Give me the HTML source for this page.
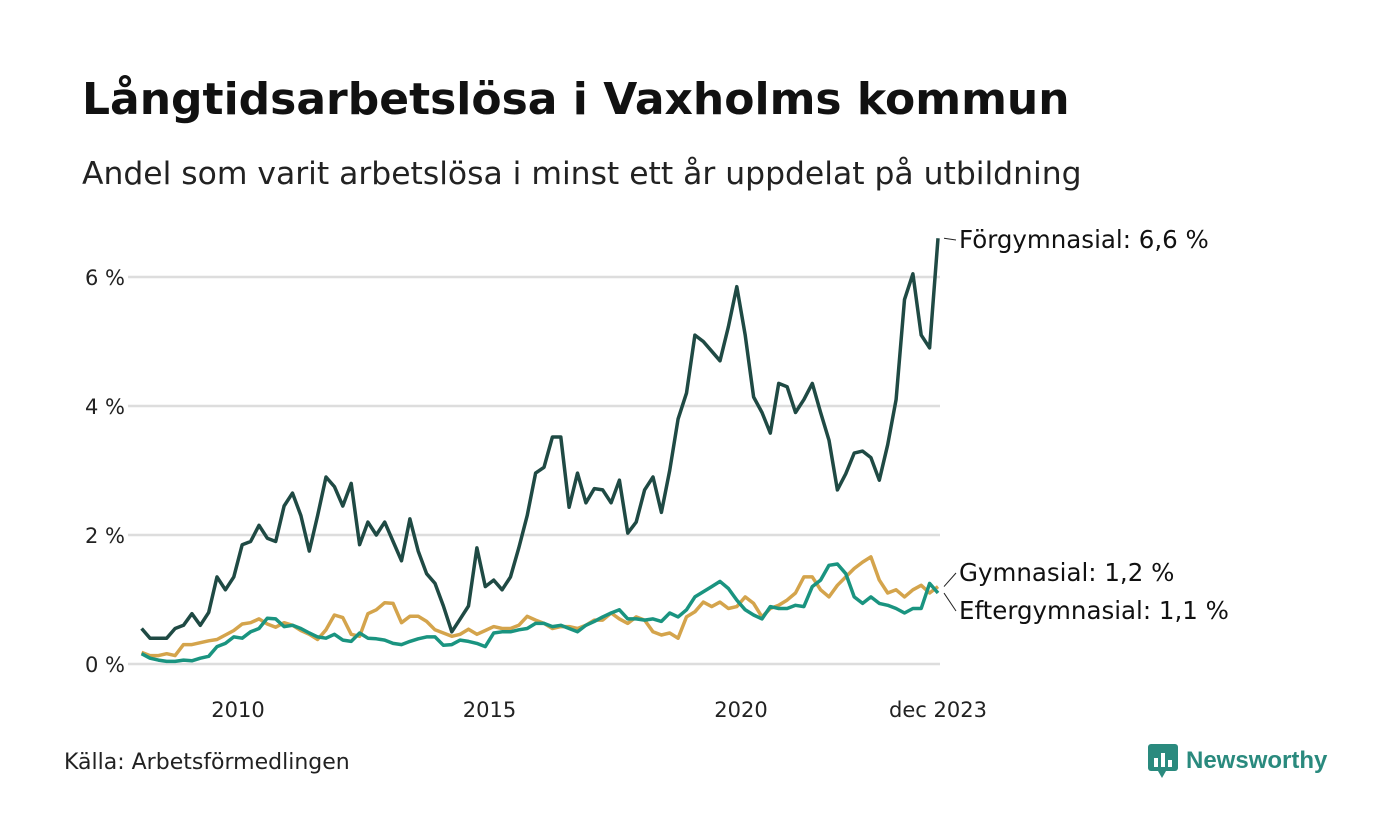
<!DOCTYPE html>
<html><head><meta charset="utf-8"><style>
body{margin:0;background:#fff;font-family:"DejaVu Sans","Liberation Sans",sans-serif;}
#wrap{position:relative;width:1400px;height:840px;overflow:hidden;}
h1{position:absolute;left:82px;top:74px;margin:0;font-size:44px;font-weight:bold;color:#111;white-space:nowrap;}
.sub{position:absolute;left:82px;top:156px;font-size:31.4px;color:#222;white-space:nowrap;}
.src{position:absolute;left:64px;top:750px;font-size:22px;color:#222;}
.logo{position:absolute;left:1148px;top:744px;font-size:24px;color:#2a8a7e;font-weight:bold;display:flex;align-items:center;gap:8px;font-family:"Liberation Sans",sans-serif;}
</style></head><body>
<div id="wrap">
<h1>Långtidsarbetslösa i Vaxholms kommun</h1>
<div class="sub">Andel som varit arbetslösa i minst ett år uppdelat på utbildning</div>
<svg id="chart" width="1400" height="840" style="position:absolute;left:0;top:0;font-family:'DejaVu Sans','Liberation Sans',sans-serif"></svg>
<div class="src">Källa: Arbetsförmedlingen</div>
<div class="logo"><svg width="30" height="34" viewBox="0 0 30 34"><rect x="0" y="0" width="30" height="27" rx="3" fill="#2a8a7e"/><polygon points="10,27 18,27 14,34" fill="#2a8a7e"/><rect x="6" y="14" width="4" height="9" fill="#fff"/><rect x="13" y="9" width="4" height="14" fill="#fff"/><rect x="20" y="16" width="4" height="7" fill="#fff"/></svg><span>Newsworthy</span></div>
</div>
<script>
const startMonthOffset = -23; // Feb 2008 relative to Jan 2010, bi-monthly step
const stepMonths = 2;
const forgymnasial = [0.55,0.4,0.4,0.4,0.55,0.6,0.78,0.6,0.8,1.35,1.15,1.35,1.85,1.9,2.15,1.95,1.9,2.45,2.65,2.3,1.75,2.3,2.9,2.75,2.45,2.8,1.85,2.2,2.0,2.2,1.9,1.6,2.25,1.75,1.4,1.25,0.9,0.5,0.7,0.9,1.8,1.2,1.3,1.15,1.35,1.8,2.3,2.96,3.05,3.52,3.52,2.43,2.96,2.5,2.72,2.7,2.5,2.85,2.03,2.2,2.7,2.9,2.35,3.0,3.8,4.2,5.1,5.0,4.85,4.7,5.23,5.85,5.1,4.14,3.9,3.58,4.35,4.3,3.9,4.1,4.35,3.9,3.47,2.7,2.95,3.27,3.3,3.2,2.85,3.4,4.1,5.65,6.05,5.1,4.9,6.6];
const gymnasial = [0.18,0.13,0.13,0.16,0.13,0.3,0.3,0.33,0.36,0.38,0.45,0.52,0.62,0.64,0.7,0.62,0.57,0.64,0.6,0.52,0.46,0.38,0.53,0.76,0.72,0.46,0.43,0.78,0.84,0.95,0.94,0.64,0.74,0.74,0.66,0.53,0.48,0.43,0.46,0.54,0.46,0.52,0.58,0.55,0.55,0.6,0.74,0.68,0.63,0.55,0.58,0.58,0.55,0.6,0.68,0.68,0.79,0.7,0.63,0.73,0.68,0.5,0.45,0.48,0.4,0.73,0.81,0.96,0.89,0.96,0.86,0.89,1.04,0.94,0.73,0.86,0.91,0.99,1.1,1.35,1.35,1.15,1.04,1.22,1.35,1.48,1.58,1.66,1.3,1.1,1.15,1.04,1.15,1.22,1.1,1.2];
const eftergymnasial = [0.16,0.09,0.06,0.04,0.04,0.06,0.05,0.09,0.12,0.27,0.32,0.42,0.4,0.5,0.55,0.71,0.7,0.58,0.6,0.55,0.48,0.42,0.4,0.46,0.37,0.35,0.48,0.4,0.39,0.37,0.32,0.3,0.35,0.39,0.42,0.42,0.29,0.3,0.37,0.35,0.32,0.27,0.48,0.5,0.5,0.53,0.55,0.63,0.63,0.58,0.6,0.55,0.5,0.6,0.66,0.73,0.79,0.84,0.7,0.7,0.68,0.7,0.66,0.79,0.73,0.84,1.04,1.12,1.2,1.28,1.17,0.99,0.84,0.76,0.7,0.89,0.86,0.86,0.91,0.89,1.2,1.3,1.53,1.55,1.4,1.04,0.94,1.04,0.94,0.91,0.86,0.79,0.86,0.86,1.25,1.1];
const yTicks = [0,2,4,6];
const yTickLabels = ["0 %","2 %","4 %","6 %"];
const xTickMonths = [0,60,120,167];
const xTickLabels = ["2010","2015","2020","dec 2023"];
const seriesLabels = ["Förgymnasial: 6,6 %","Gymnasial: 1,2 %","Eftergymnasial: 1,1 %"];

const NS="http://www.w3.org/2000/svg";
const svg=document.getElementById('chart');
const xScale=m=>238+m*251.5/60;
const yScale=v=>664-v*64.5;
function mk(tag,attrs){const e=document.createElementNS(NS,tag);for(const k in attrs)e.setAttribute(k,attrs[k]);svg.appendChild(e);return e;}
yTicks.forEach((t,i)=>{
  const g=mk('line',{x1:128,x2:940,y1:yScale(t),y2:yScale(t),stroke:'#ddd','stroke-width':2.5});
  
  
  const tx=mk('text',{x:125,y:yScale(t)+8,'text-anchor':'end','font-size':21,fill:'#222'});
  tx.textContent=yTickLabels[i];
  
  
});
xTickMonths.forEach((m,i)=>{
  const tx=mk('text',{x:xScale(m),y:717,'text-anchor':'middle','font-size':21,fill:'#222'});
  tx.textContent=xTickLabels[i];
  
  
});
function drawLine(vals,color,name){
  const d=vals.map((v,i)=>(i?'L':'M')+xScale(startMonthOffset+i*stepMonths).toFixed(1)+','+yScale(v).toFixed(1)).join('');
  const p=mk('path',{d:d,fill:'none',stroke:color,'stroke-width':3.5,'stroke-linejoin':'round'});
  
  
}
drawLine(gymnasial,'#d4a44c','line-gymnasial');
drawLine(eftergymnasial,'#1a9480','line-eftergymnasial');
drawLine(forgymnasial,'#1f4a44','line-forgymnasial');
const lastX=xScale(startMonthOffset+(forgymnasial.length-1)*stepMonths);
const labs=[[forgymnasial,248,240],[gymnasial,581,573],[eftergymnasial,619,611]];
labs.forEach((l,i)=>{
  const v=l[0][l[0].length-1];
  const ln=mk('line',{x1:lastX+6,y1:yScale(v),x2:956,y2:l[2],stroke:'#222','stroke-width':1});
  
  
  const tx=mk('text',{x:959,y:l[1],'font-size':24.5,fill:'#111'});
  tx.textContent=seriesLabels[i];
  
  
});
</script>
</body></html>
